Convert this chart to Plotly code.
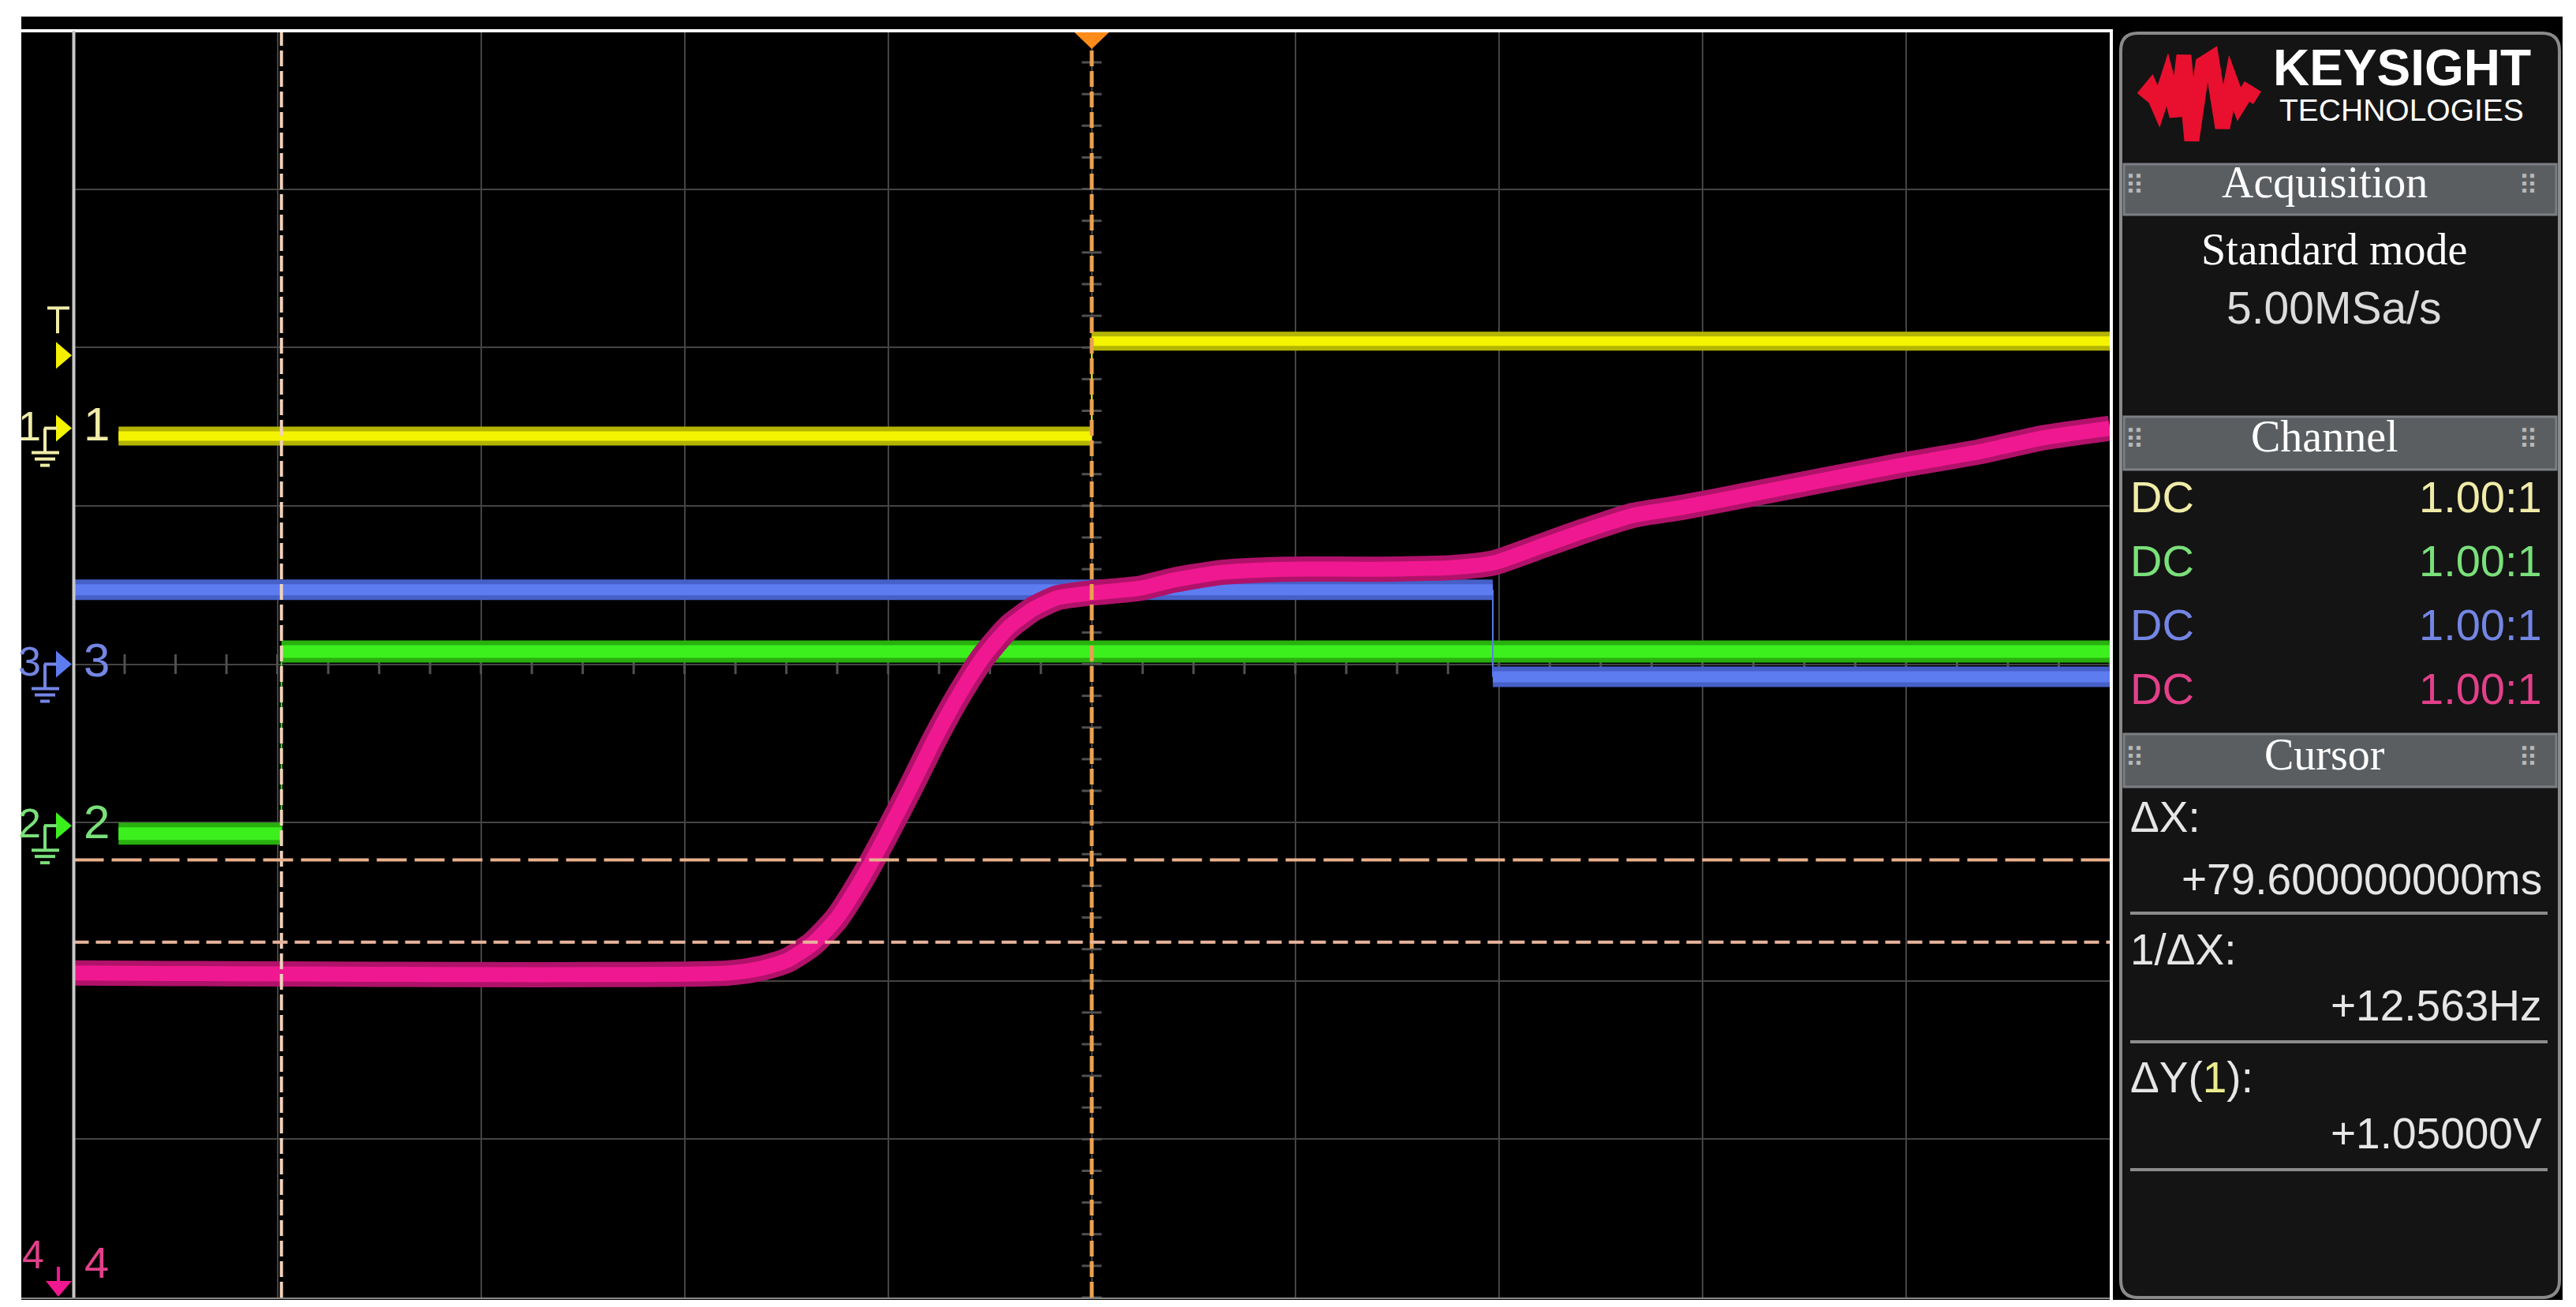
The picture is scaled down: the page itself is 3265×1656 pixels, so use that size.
import numpy as np
import plotly.graph_objects as go

W, H = 3265, 1656

# screen: 10 x 8 divisions, 20 ms/div, trigger at t = 0
t_range = [-100, 100]
div_range = [-4, 4]

# channel traces (t in ms, level in divisions from screen centre)
ch1_t = [-95.6, 0.0, 0.0, 100.0]
ch1_v = [1.44, 1.44, 2.04, 2.04]
ch2_t = [-95.6, -79.6, -79.6, 100.0]
ch2_v = [-1.07, -1.07, 0.08, 0.08]
ch3_t = [-100.0, 39.4, 39.4, 100.0]
ch3_v = [0.47, 0.47, -0.08, -0.08]
ch4_t = [-100, -35.6, -32.4, -29.9, -27.5, -25.1, -22.7, -20.3, -17.8, -15.4, -13.0,
         -10.6, -8.2, -5.7, -3.3, 0.1, 4.8, 8.0, 12.8, 19.3, 27.4, 35.4, 39.5, 43.5,
         48.3, 53.2, 58.0, 64.5, 70.9, 79.0, 87.1, 93.5, 100]
ch4_v = [-1.95, -1.95, -1.92, -1.87, -1.77, -1.61, -1.37, -1.09, -0.78, -0.47, -0.19,
         0.05, 0.23, 0.35, 0.42, 0.45, 0.48, 0.53, 0.58, 0.60, 0.60, 0.61, 0.64, 0.73,
         0.84, 0.94, 0.99, 1.07, 1.15, 1.25, 1.34, 1.43, 1.49]

ground_levels = [1.49, -1.02, 0.0]   # ch1, ch2, ch3 (ch4 is below screen)
trig_level = 1.95
cursor_x = [-79.6, 0.0]
cursor_y = [-1.236, -1.756]

# side panel texts
acq_lines = ["Standard mode", "5.00MSa/s"]
ch_coupling = ["DC", "DC", "DC", "DC"]
ch_probe = ["1.00:1", "1.00:1", "1.00:1", "1.00:1"]
cursor_labels = ["ΔX:", "1/ΔX:", "ΔY(<span style='color:#ecec8c'>1</span>):"]
cursor_values = ["+79.600000000ms", "+12.563Hz", "+1.05000V"]

ch_colors = ["#f4f400", "#3cf01e", "#5c7cf0", "#f01890"]
ch_glow = ["#b4b400", "#28b00e", "#4660c8", "#b0126a"]
ch_text = ["#f0eca8", "#7ae07a", "#7486e4", "#e2408a"]
core_w = [12, 16, 14, 19]
glow_w = [24, 28, 26, 32]

SCOPE = "Liberation Sans, Arial, sans-serif"
SERIF = "Liberation Serif, DejaVu Serif, serif"

# pixel frame of the graticule
GX0, GX1 = 85.5, 2666.0
GY0, GY1 = 31.0, 1636.0


def px(x):
    return x / W


def py(y):
    return 1 - y / H


def div_px(d):
    return GY0 + (div_range[1] - d) / (div_range[1] - div_range[0]) * (GY1 - GY0)


def path_px(pts, close=True):
    s = "M " + " L ".join(f"{px(x):.5f},{py(y):.5f}" for x, y in pts)
    return s + (" Z" if close else "")


def split_steps(t, v):
    fx, fy, ex, ey = [], [], [], []
    for i in range(len(t) - 1):
        if t[i] == t[i + 1]:
            ex += [t[i], t[i + 1], None]
            ey += [v[i], v[i + 1], None]
        else:
            fx += [t[i], t[i + 1], None]
            fy += [v[i], v[i + 1], None]
    return fx, fy, ex, ey


fig = go.Figure()

# centre-axis minor ticks
xt = np.arange(t_range[0], t_range[1] + 0.01, 5)
fig.add_trace(go.Scatter(x=xt, y=np.zeros_like(xt), mode="markers",
                         marker=dict(symbol="line-ns", size=18, line=dict(width=3, color="#505050")),
                         hoverinfo="skip"))
yt = np.arange(div_range[0], div_range[1] + 0.01, 0.2)
fig.add_trace(go.Scatter(x=np.zeros_like(yt), y=yt, mode="markers",
                         marker=dict(symbol="line-ew", size=18, line=dict(width=3, color="#505050")),
                         hoverinfo="skip"))

# digital-looking channels 1-3
for i, (t, v) in enumerate([(ch1_t, ch1_v), (ch2_t, ch2_v), (ch3_t, ch3_v)]):
    fx, fy, ex, ey = split_steps(t, v)
    fig.add_trace(go.Scatter(x=ex, y=ey, mode="lines", line=dict(color=ch_colors[i], width=2),
                             name=f"CH{i+1} edge"))
    fig.add_trace(go.Scatter(x=fx, y=fy, mode="lines", line=dict(color=ch_glow[i], width=glow_w[i]),
                             name=f"CH{i+1} glow"))
    fig.add_trace(go.Scatter(x=fx, y=fy, mode="lines", line=dict(color=ch_colors[i], width=core_w[i]),
                             name=f"CH{i+1}"))

# channel 4 analog ramp
fig.add_trace(go.Scatter(x=ch4_t, y=ch4_v, mode="lines",
                         line=dict(color=ch_glow[3], width=glow_w[3], shape="spline", smoothing=0.6)))
fig.add_trace(go.Scatter(x=ch4_t, y=ch4_v, mode="lines",
                         line=dict(color=ch_colors[3], width=core_w[3], shape="spline", smoothing=0.6)))

# cursors
fig.add_vline(x=cursor_x[0], line=dict(color="#f2d2bc", width=4, dash="20px,6px"))
fig.add_vline(x=cursor_x[1], line=dict(color="#e8a050", width=5, dash="20px,6px"))
fig.add_hline(y=cursor_y[0], line=dict(color="#eab08c", width=4, dash="38px,10px"))
fig.add_hline(y=cursor_y[1], line=dict(color="#e8b49c", width=4, dash="19px,9px"))

# trigger position marker
fig.add_shape(type="path", xref="x", yref="y",
              path=f"M {-1.86},{div_range[1]} L {1.86},{div_range[1]} L 0,{div_range[1] - 0.115} Z",
              fillcolor="#ff8c1a", line_width=0)

shapes_below = []
# scope screen background
shapes_below.append(dict(type="rect", x0=px(19), x1=px(3240), y0=py(1639), y1=py(13),
                         fillcolor="black", line_width=0))
# side panel
r = 22
x0, x1, y0, y1 = 2680, 3236, 34, 1636
panel = (f"M {px(x0 + r)},{py(y0)} L {px(x1 - r)},{py(y0)} Q {px(x1)},{py(y0)} {px(x1)},{py(y0 + r)} "
         f"L {px(x1)},{py(y1 - r)} Q {px(x1)},{py(y1)} {px(x1 - r)},{py(y1)} "
         f"L {px(x0 + r)},{py(y1)} Q {px(x0)},{py(y1)} {px(x0)},{py(y1 - r)} "
         f"L {px(x0)},{py(y0 + r)} Q {px(x0)},{py(y0)} {px(x0 + r)},{py(y0)} Z")
shapes_below.append(dict(type="path", path=panel, fillcolor="#141414",
                         line=dict(color="#8a8a8a", width=4)))
for b0, b1 in [(200, 264), (520, 587), (922, 989)]:
    shapes_below.append(dict(type="rect", x0=px(2684), x1=px(3232), y0=py(b1), y1=py(b0),
                             fillcolor="#5b5e61", line=dict(color="#7c7f83", width=3)))
for s in shapes_below:
    fig.add_shape(xref="paper", yref="paper", layer="below", **s)


def line_px(xa, ya, xb, yb, color, width):
    fig.add_shape(type="line", xref="paper", yref="paper", x0=px(xa), y0=py(ya), x1=px(xb), y1=py(yb),
                  line=dict(color=color, width=width))


def ann(x, y, s, size, color, family=SCOPE, xanchor="center", **kw):
    fig.add_annotation(x=px(x), y=py(y), xref="paper", yref="paper", text=s, showarrow=False,
                       xanchor=xanchor, yanchor="middle",
                       font=dict(size=size, color=color, family=family), **kw)


# graticule frame
line_px(19, 31, GX1 + 2, 31, "white", 4)
line_px(GX1 + 2, 29, GX1 + 2, 1639, "white", 4)
line_px(GX0, 31, GX0, 1637, "#c8c8c8", 4)
line_px(19, GY1 + 1, GX1, GY1 + 1, "#8a8a8a", 2)

# ground markers on the left strip
for i, g in enumerate(ground_levels):
    yy = div_px(g)
    c = ch_colors[i]
    tc = ch_text[i]
    fig.add_shape(type="path", xref="paper", yref="paper", fillcolor=c, line_width=0,
                  path=path_px([(63, yy - 17), (83, yy), (63, yy + 17)]))
    line_px(48, yy, 64, yy, tc, 4)
    line_px(49, yy, 49, yy + 31, tc, 4)
    line_px(32, yy + 31, 67, yy + 31, tc, 4)
    line_px(36, yy + 39, 62, yy + 39, tc, 4)
    line_px(43, yy + 47, 55, yy + 47, tc, 4)
    ann(29, yy - 3, str(i + 1), 52, tc)
    ann(114, yy - 5, str(i + 1), 60, tc)

# channel 4 is off-screen (below)
ann(34, 1582, "4", 50, ch_text[3])
ann(114, 1591, "4", 56, ch_text[3])
line_px(66, 1597, 66, 1620, ch_colors[3], 4)
fig.add_shape(type="path", xref="paper", yref="paper", fillcolor=ch_colors[3], line_width=0,
              path=path_px([(50, 1615), (83, 1615), (66, 1635)]))

# trigger level marker
ty = div_px(trig_level)
line_px(52, ty - 60, 80, ty - 60, "#f0eca8", 4)
line_px(65, ty - 60, 65, ty - 28, "#f0eca8", 4)
fig.add_shape(type="path", xref="paper", yref="paper", fillcolor="#f5f000", line_width=0,
              path=path_px([(63, ty - 17), (83, ty), (63, ty + 17)]))

# Keysight logo
logo = [(2708, 116), (2718, 104), (2728, 127), (2739, 93), (2751, 139), (2760, 62), (2770, 170),
        (2784, 73), (2795, 66), (2809, 154), (2820, 97), (2830, 124), (2840, 108), (2853, 116)]
fig.add_shape(type="path", xref="paper", yref="paper", path=path_px(logo, close=False),
              line=dict(color="#e8102e", width=19))
ann(3036, 78, "<b>KEYSIGHT</b>", 64, "white", family="Liberation Sans, Arial, sans-serif")
ann(3036, 131, "TECHNOLOGIES", 39, "white", family="Liberation Sans, Arial, sans-serif")

# panel headers
for title, yy in [("Acquisition", 223), ("Channel", 545), ("Cursor", 948)]:
    ann(2938, yy, title, 56, "white", family=SERIF)
    ann(2697, yy + 4, "⠿", 34, "#b8b8b8", family="DejaVu Sans")
    ann(3196, yy + 4, "⠿", 34, "#b8b8b8", family="DejaVu Sans")

ann(2950, 308, acq_lines[0], 56, "white", family=SERIF)
ann(2950, 382, acq_lines[1], 57, "#dcdcdc")

for i, yy in enumerate([621, 702, 783, 864]):
    ann(2690, yy, ch_coupling[i], 56, ch_text[i], xanchor="left")
    ann(3216, yy, ch_probe[i], 56, ch_text[i], xanchor="right")

for lab, val, yl, yv, ys in zip(cursor_labels, cursor_values, [1027, 1195, 1357],
                                [1106, 1266, 1428], [1149, 1312, 1474]):
    ann(2690, yl, lab, 55, "#e6e6e6", xanchor="left")
    ann(3216, yv, val, 55, "#e6e6e6", xanchor="right")
    line_px(2692, ys, 3221, ys, "#8c8c8c", 4)

fig.update_layout(
    width=W, height=H, margin=dict(l=0, r=0, t=0, b=0),
    paper_bgcolor="white", plot_bgcolor="rgba(0,0,0,0)", showlegend=False,
    xaxis=dict(domain=[px(GX0), px(GX1)], range=t_range, dtick=20, tick0=-100,
               showgrid=True, gridcolor="#444444", gridwidth=2, zeroline=False,
               showticklabels=False, ticks="", showline=False, fixedrange=True),
    yaxis=dict(domain=[py(GY1), py(GY0)], range=div_range, dtick=1, tick0=-4,
               showgrid=True, gridcolor="#444444", gridwidth=2, zeroline=False,
               showticklabels=False, ticks="", showline=False, fixedrange=True),
)

fig.write_html("out.html")
